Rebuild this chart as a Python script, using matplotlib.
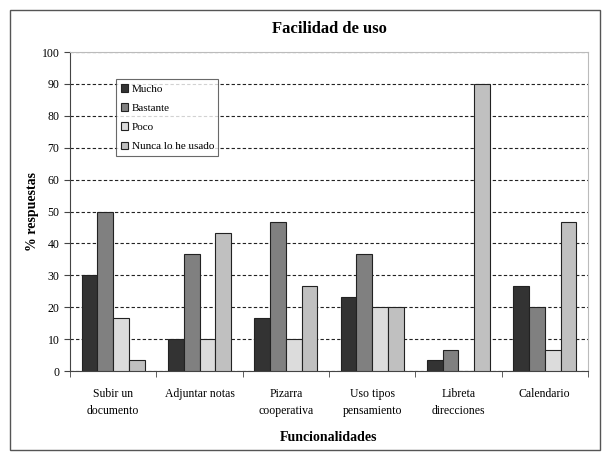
import numpy as np
import matplotlib.pyplot as plt
from matplotlib.patches import Rectangle

plt.rcParams['font.family'] = ['Liberation Serif', 'DejaVu Serif']

categories = ['Subir un\ndocumento', 'Adjuntar notas', 'Pizarra\ncooperativa',
              'Uso tipos\npensamiento', 'Libreta\ndirecciones', 'Calendario']
series = ['Mucho', 'Bastante', 'Poco', 'Nunca lo he usado']
mucho = [30, 10, 16.7, 23.3, 3.3, 26.7]
bastante = [50, 36.7, 46.7, 36.7, 6.7, 20]
poco = [16.7, 10, 10, 20, 0, 6.7]
nunca = [3.3, 43.3, 26.7, 20, 90, 46.7]
colors = ['#333333', '#808080', '#dcdcdc', '#c0c0c0']

fig = plt.figure(figsize=(6.1, 4.59), dpi=100)
ax = fig.add_axes([0.1148, 0.1917, 0.849, 0.695])

# outer chart border
fig.patches.append(Rectangle((10 / 610, 1 - 450 / 459), 590 / 610, 440 / 459,
                             transform=fig.transFigure, fill=False,
                             edgecolor='#555555', linewidth=1))

x = np.arange(len(categories))
w = 0.183
for i, (vals, c) in enumerate(zip([mucho, bastante, poco, nunca], colors)):
    ax.bar(x + (i - 1.5) * w, vals, w, color=c, edgecolor='#222222',
           linewidth=0.8, label=series[i], zorder=3)

ax.set_xlim(-0.5, len(categories) - 0.5)
ax.set_ylim(0, 100)
ax.set_yticks(range(0, 101, 10))
ax.set_xticks(x)
ax.set_xticklabels(categories, fontsize=8.5, linespacing=1.6)
ax.set_xticks(np.arange(-0.5, len(categories)), minor=True)
ax.tick_params(axis='x', which='major', length=0, pad=12)
ax.tick_params(axis='x', which='minor', length=4, color='#444444')
ax.tick_params(axis='y', labelsize=8.5, length=4, color='#444444')

ax.grid(axis='y', linestyle=(0, (3, 2)), color='#222222', linewidth=0.8, zorder=0)
for s in ['top', 'right']:
    ax.spines[s].set_color('#bbbbbb')
for s in ['left', 'bottom']:
    ax.spines[s].set_color('#444444')

ax.set_title('Facilidad de uso', fontsize=12, fontweight='bold', pad=14)
ax.set_ylabel('% respuestas', fontsize=10, fontweight='bold')
ax.yaxis.set_label_coords(-0.06, 0.5)
ax.set_xlabel('Funcionalidades', fontsize=10, fontweight='bold', labelpad=10)

leg = ax.legend(loc='upper left', bbox_to_anchor=(0.089, 0.914), fontsize=8,
                frameon=True, fancybox=False, edgecolor='#444444',
                handlelength=0.7, handleheight=0.7, handletextpad=0.3,
                borderpad=0.4, labelspacing=0.85, borderaxespad=0)
leg.get_frame().set_linewidth(0.8)

fig.savefig('out.png', dpi=100)
